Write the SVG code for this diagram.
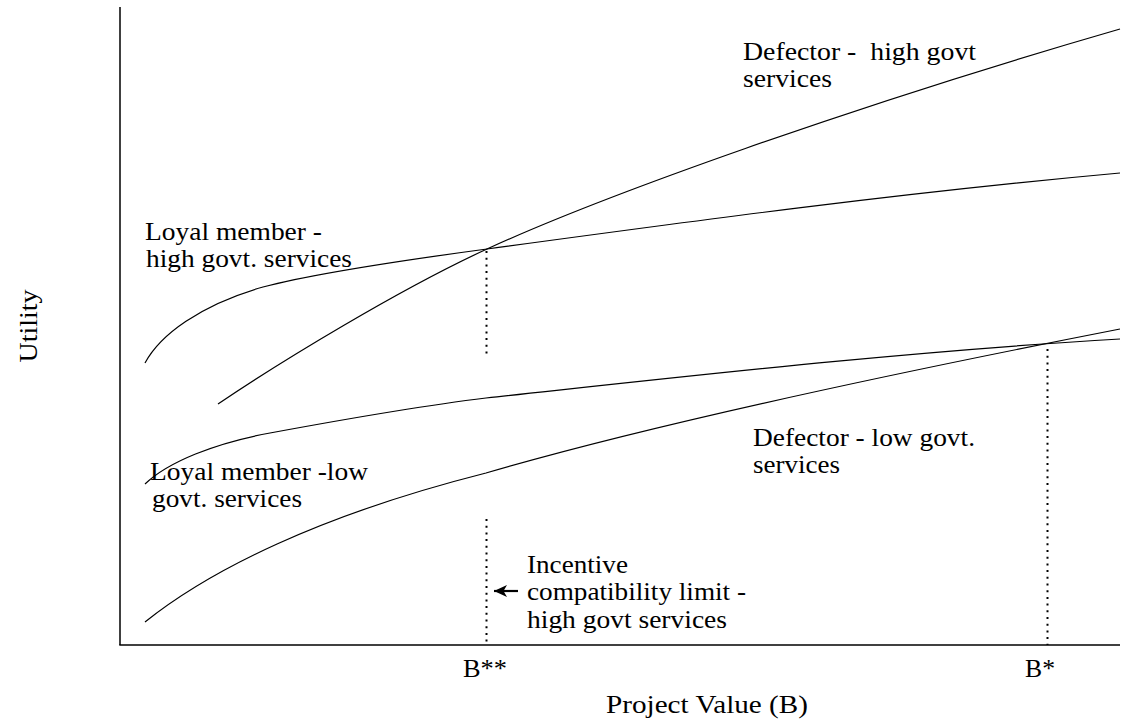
<svg xmlns="http://www.w3.org/2000/svg" width="1136" height="726" viewBox="0 0 1136 726">
<defs>
<style>
text{font-family:'Liberation Serif','Times New Roman',Times,serif;font-size:25.5px;fill:#000}
.c{fill:none;stroke:#000;stroke-width:1.2}
.ax{fill:none;stroke:#000;stroke-width:1.5}
.dot{fill:none;stroke:#000;stroke-width:2;stroke-dasharray:2 4.7}
</style>
<marker id="ah" markerWidth="14" markerHeight="14" refX="13" refY="6.5" orient="auto" markerUnits="userSpaceOnUse">
<path d="M0,0.5 L13,6.5 L0,12.5 L3.5,6.5 Z" fill="#000"/>
</marker>
</defs>
<rect width="1136" height="726" fill="#fff"/>
<g id="axes">
<line class="ax" x1="120" y1="7" x2="120" y2="645"/>
<line class="ax" x1="119.3" y1="645" x2="1120" y2="645"/>
</g>
<g id="connectors">
<path id="loyal-high" class="c" d="M145,363 C160,335 200,305 263,287 C320,272 420,258 487,249 C700,220 900,193 1120,173"/>
<path id="defector-high" class="c" d="M218,404 C280,362 400,289 487,249 C600,197 850,107 1120,29"/>
<path id="loyal-low" class="c" d="M145,484 C168,462 215,443 270,433 C335,421 420,406 486,398 C700,375 900,352 1120,339"/>
<path id="defector-low" class="c" d="M145,622 C210,570 320,515 486,473 C650,425 900,372 1120,329"/>
<line class="dot" x1="486.5" y1="251" x2="486.5" y2="355"/>
<line class="dot" x1="486.5" y1="519" x2="486.5" y2="645"/>
<line class="dot" x1="1047.5" y1="349" x2="1047.5" y2="645"/>
<line x1="518" y1="591" x2="494" y2="591" stroke="#000" stroke-width="2.2" marker-end="url(#ah)"/>
</g>
<g id="label-defector-high">
<text x="743" y="60" textLength="233" lengthAdjust="spacingAndGlyphs" xml:space="preserve">Defector -  high govt</text>
<text x="743" y="87" textLength="89" lengthAdjust="spacingAndGlyphs">services</text>
</g>
<g id="label-loyal-high">
<text x="145" y="240" textLength="177" lengthAdjust="spacingAndGlyphs">Loyal member -</text>
<text x="146" y="267" textLength="206" lengthAdjust="spacingAndGlyphs">high govt. services</text>
</g>
<g id="label-loyal-low">
<text x="150" y="480" textLength="218" lengthAdjust="spacingAndGlyphs">Loyal member -low</text>
<text x="152" y="507" textLength="150" lengthAdjust="spacingAndGlyphs">govt. services</text>
</g>
<g id="label-defector-low">
<text x="753" y="446" textLength="222" lengthAdjust="spacingAndGlyphs">Defector - low govt.</text>
<text x="753" y="473" textLength="87" lengthAdjust="spacingAndGlyphs">services</text>
</g>
<g id="label-incentive">
<text x="527" y="573" textLength="101" lengthAdjust="spacingAndGlyphs">Incentive</text>
<text x="527" y="600" textLength="219" lengthAdjust="spacingAndGlyphs">compatibility limit -</text>
<text x="527" y="628" textLength="200" lengthAdjust="spacingAndGlyphs">high govt services</text>
</g>
<g id="label-bss">
<text x="463" y="677" textLength="44" lengthAdjust="spacingAndGlyphs">B**</text>
</g>
<g id="label-bs">
<text x="1025" y="677" textLength="30" lengthAdjust="spacingAndGlyphs">B*</text>
</g>
<g id="label-xaxis">
<text x="606" y="713" textLength="202" lengthAdjust="spacingAndGlyphs">Project Value (B)</text>
</g>
<g id="label-yaxis">
<text transform="translate(37,326) rotate(-90)" text-anchor="middle" textLength="73" lengthAdjust="spacingAndGlyphs">Utility</text>
</g>
</svg>
